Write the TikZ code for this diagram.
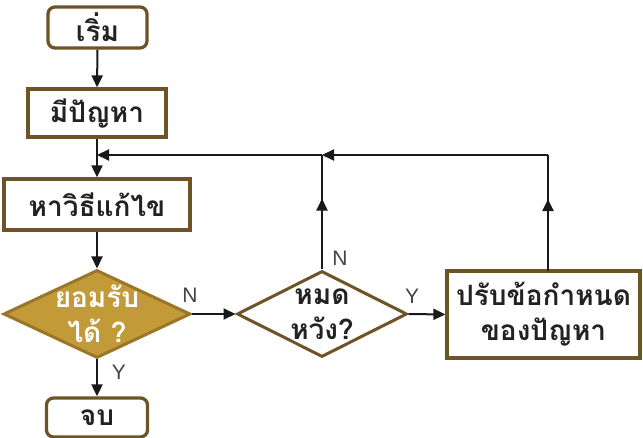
\documentclass[tikz,border=0pt]{standalone}
\usepackage{fontspec}
\setmainfont{Liberation Sans}
\newfontfamily\thaifont[Script=Thai]{Loma}
\usetikzlibrary{shapes.geometric,arrows.meta,decorations.markings}
\definecolor{boxbrown}{HTML}{6E5327}
\definecolor{goldfill}{HTML}{C29A38}
\definecolor{goldedge}{HTML}{9A7628}
\definecolor{txt}{HTML}{222222}
\definecolor{lbl}{HTML}{444444}
\tikzset{
  procbox/.style={draw=boxbrown, line width=3.3pt, fill=white, inner sep=0pt},
  termbox/.style={procbox, rounded corners=7pt},
  decbox/.style={diamond, draw=#1, line width=3pt, inner sep=0pt},
  thaitext/.style={font=\thaifont\bfseries\fontsize{28}{35}\selectfont, text=txt, align=center},
  yn/.style={font=\fontsize{21}{22}\selectfont, text=lbl},
  conn/.style={draw=black!90, line width=2pt},
  arr/.style={conn, -{Triangle[length=12pt,width=11pt]}},
  midarrow/.style={conn, postaction={decorate}, decoration={markings, mark=at position #1 with {\arrow{Triangle[length=12pt,width=11pt]}}}}
}
\begin{document}
\begin{tikzpicture}[x=1pt,y=-1pt]
\useasboundingbox (0,0) rectangle (643,438);
\node[termbox, minimum width=99pt, minimum height=41pt] (start) at (97.5,27.5) {};
\node[thaitext] (startt) at (start.center) {เริ่ม};
\node[procbox, minimum width=138pt, minimum height=48pt] (prob) at (97,113) {};
\node[thaitext] (probt) at (prob.center) {มีปัญหา};
\node[procbox, minimum width=186pt, minimum height=51pt] (sol) at (97,204.5) {};
\node[thaitext] (solt) at (sol.center) {หาวิธีแก้ไข};
\node[decbox=goldedge, fill=goldfill, minimum width=187pt, minimum height=88pt] (acc) at (97,314) {};
\node[thaitext, text=white] (acct) at (acc.center) {ยอมรับ\\ได้ ?};
\node[termbox, minimum width=101pt, minimum height=39pt] (end) at (97,417.5) {};
\node[thaitext] (endt) at (end.center) {จบ};
\node[decbox=boxbrown, fill=white, minimum width=170pt, minimum height=86pt] (hope) at (322,314) {};
\node[thaitext] (hopet) at (hope.center) {หมด\\หวัง?};
\node[procbox, minimum width=193pt, minimum height=87pt] (adj) at (543.5,314.5) {};
\node[thaitext] (adjt) at (adj.center) {ปรับข้อกำหนด\\ของปัญหา};

\coordinate (j1) at (97,155);
\coordinate (j2) at (322,155);
\coordinate (j3) at (548,155);
\coordinate (adjtop) at (548,271);

\draw[arr] (start.south) -- (prob.north);
\draw[arr] (prob.south) -- (sol.north);
\draw[arr] (sol.south) -- (acc.north);
\draw[arr] (acc.south) -- (end.north);
\draw[arr] (acc.east) -- (hope.west);
\draw[arr] (hope.east) -- (adj.west);
\draw[midarrow=0.62] (hope.north) -- (j2);
\draw[midarrow=0.62] (adjtop) -- (j3);
\draw[arr] (j3) -- (j2);
\draw[arr] (j2) -- (j1);

\node[yn] (ly1) at (119,372) {Y};
\node[yn] (ln1) at (190,295) {N};
\node[yn] (ly2) at (412,296) {Y};
\node[yn] (ln2) at (340,258) {N};
\end{tikzpicture}
\end{document}
